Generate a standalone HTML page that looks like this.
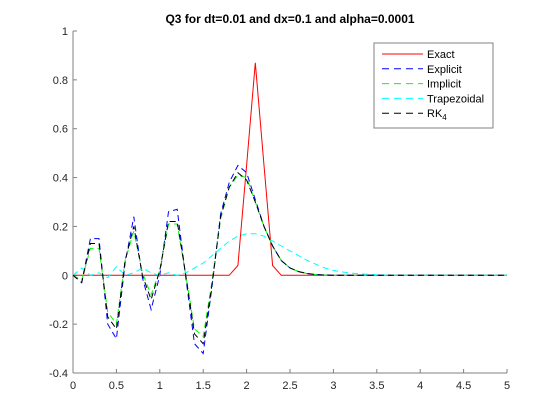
<!DOCTYPE html>
<html><head><meta charset="utf-8"><style>
body{margin:0;background:#fff;}
svg{display:block;font-family:"Liberation Sans",Arial,sans-serif;}
</style></head><body>
<svg id="chart" width="560" height="420" viewBox="0 0 560 420" xmlns="http://www.w3.org/2000/svg">
<rect width="560" height="420" fill="#fff"/>
<g>
<line x1="73" y1="31" x2="73" y2="373" stroke="#808080" stroke-width="1"/>
<line x1="73" y1="373" x2="507" y2="373" stroke="#808080" stroke-width="1"/>
</g>
<text x="290" y="23" text-anchor="middle" font-size="12" font-weight="bold" fill="#000">Q3 for dt=0.01 and dx=0.1 and alpha=0.0001</text>
<g id="ticks"></g>
<g id="series"></g>
<g>
<rect x="374" y="43" width="119" height="85" fill="#fff" stroke="#808080" stroke-width="1"/>
<g id="legend-items"></g>
</g>
</svg>
<script>
const xTicks=[0,0.5,1,1.5,2,2.5,3,3.5,4,4.5,5];
const xTickLabels=["0","0.5","1","1.5","2","2.5","3","3.5","4","4.5","5"];
const yTicks=[-0.4,-0.2,0,0.2,0.4,0.6,0.8,1];
const yTickLabels=["-0.4","-0.2","0","0.2","0.4","0.6","0.8","1"];
const xStep=0.1;
const exactVals=[0,0,0,0,0,0,0,0,0,0,0,0,0,0,0,0,0,0,0,0.04,0.45,0.87,0.45,0.04,0];
const explicitVals=[0,-0.03,0.15,0.15,-0.2,-0.26,0.05,0.24,-0.01,-0.14,0,0.26,0.27,-0.01,-0.28,-0.32,-0.05,0.25,0.38,0.45,0.42,0.31,0.2,0.12,0.06,0.03,0.015,0.007,0.003,0.001,0];
const implicitVals=[0,-0.02,0.11,0.11,-0.15,-0.2,0.06,0.18,0.01,-0.08,0.02,0.21,0.21,0,-0.22,-0.25,-0.03,0.23,0.36,0.41,0.4,0.3,0.2,0.12,0.06,0.03,0.015,0.007,0.003,0.001,0];
const trapVals=[0,0.03,0,0.01,-0.01,0.035,0,0.01,0.03,0.01,0,0.01,0,0.01,0.03,0.05,0.08,0.11,0.14,0.16,0.17,0.17,0.16,0.14,0.12,0.1,0.08,0.06,0.045,0.03,0.02,0.014,0.009,0.006,0.004,0.002,0.001,0];
const rk4Vals=[0,-0.03,0.13,0.13,-0.17,-0.22,0.06,0.2,0,-0.1,0.02,0.22,0.22,0,-0.24,-0.28,-0.04,0.24,0.36,0.42,0.39,0.3,0.2,0.12,0.06,0.03,0.015,0.007,0.003,0.001,0];
const seriesNames=["Exact","Explicit","Implicit","Trapezoidal","RK4"];

const NS="http://www.w3.org/2000/svg";
const X0=73,X1=507,Y0=373,Y1=31;
function xs(v){return X0+(v-0)/(5-0)*(X1-X0);}
function ys(v){return Y0-(v+0.4)/(1.4)*(Y0-Y1);}
function mk(tag,attrs,parent){const e=document.createElementNS(NS,tag);for(const k in attrs)e.setAttribute(k,attrs[k]);parent.appendChild(e);return e;}

const tg=document.getElementById('ticks');
xTicks.forEach((t,i)=>{
  const x=xs(t);
  const l=mk('line',{x1:x,x2:x,y1:Y0,y2:Y0-4,stroke:'#808080','stroke-width':1},tg);
  
  
  const tx=mk('text',{x:x,y:Y0+16,'text-anchor':'middle','font-size':11,fill:'#262626'},tg);
  tx.textContent=xTickLabels[i];
  
  
});
yTicks.forEach((t,i)=>{
  const y=ys(t);
  const l=mk('line',{x1:X0,x2:X0+4,y1:y,y2:y,stroke:'#808080','stroke-width':1},tg);
  
  
  const tx=mk('text',{x:X0-5,y:y+4,'text-anchor':'end','font-size':11,fill:'#262626'},tg);
  tx.textContent=yTickLabels[i];
  
  
});

function pad(a){const r=a.slice();while(r.length<51)r.push(0);return r;}
const sg=document.getElementById('series');
const defs=[
 {vals:exactVals,color:'#ff0000',dash:'',name:'exact-line'},
 {vals:explicitVals,color:'#0000ff',dash:'6,4',name:'explicit-line'},
 {vals:implicitVals,color:'#00ff00',dash:'6,4',name:'implicit-line'},
 {vals:trapVals,color:'#00ffff',dash:'6,4',name:'trapezoidal-line'},
 {vals:rk4Vals,color:'#000000',dash:'6,4',name:'rk4-line'}
];
defs.forEach(d=>{
  const v=pad(d.vals);
  const pts=v.map((y,i)=>xs(i*xStep).toFixed(1)+','+ys(y).toFixed(1)).join(' ');
  const p=mk('polyline',{points:pts,fill:'none',stroke:d.color,'stroke-width':1,'stroke-dasharray':d.dash},sg);
  
  
});

const lg=document.getElementById('legend-items');
defs.forEach((d,i)=>{
  const y=54+i*14.8;
  const l=mk('line',{x1:382,x2:423,y1:y,y2:y,stroke:d.color,'stroke-width':1,'stroke-dasharray':d.dash?'7,5':''},lg);
  
  
  const t=mk('text',{x:427,y:y+4,'font-size':11,fill:'#000'},lg);
  if(seriesNames[i]==='RK4'){t.textContent='RK';const s=mk('tspan',{dy:3,'font-size':8},t);s.textContent='4';}
  else t.textContent=seriesNames[i];
  
  
});
</script>
</body></html>
